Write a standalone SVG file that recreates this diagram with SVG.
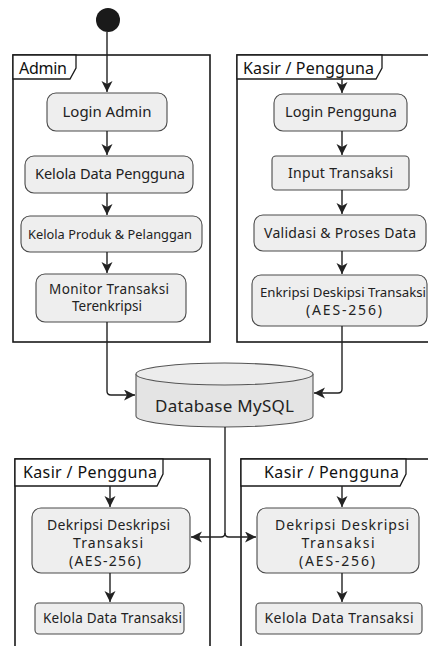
<svg xmlns="http://www.w3.org/2000/svg" width="428" height="646" viewBox="0 0 428 646">
<defs>
<style>
.lane{fill:#ffffff;stroke:#1a1a1a;stroke-width:1.6}
.tab{fill:#ffffff;stroke:#1a1a1a;stroke-width:1.3}
.box{fill:#eeeeee;stroke:#4a4a4a;stroke-width:1.1}
.t{font-family:"Noto Sans","Open Sans",sans-serif;fill:#222;text-anchor:middle}
.tl{font-family:"Noto Sans","Open Sans",sans-serif;fill:#111;font-size:16px}
.c{fill:none;stroke:#222;stroke-width:1.4}
</style>
<marker id="ah" markerWidth="13" markerHeight="12" refX="11" refY="5.5" orient="auto" markerUnits="userSpaceOnUse">
<path d="M0,0 L11,5.5 L0,11 L3,5.5 z" fill="#222"/>
</marker>
</defs>
<rect width="428" height="646" fill="#ffffff"/>

<g id="lane-admin">
<rect class="lane" x="13" y="55" width="197" height="287"/>
<path class="tab" d="M13,55 L76,55 L76,68 L70,79 L13,79 Z"/>
<text class="tl" x="19" y="74" textLength="48" lengthAdjust="spacing">Admin</text>
</g>
<g id="lane-kasir-top">
<rect class="lane" x="237" y="55" width="200" height="287"/>
<path class="tab" d="M237,55 L382,55 L382,68 L376,79 L237,79 Z"/>
<text class="tl" x="243" y="74" textLength="131" lengthAdjust="spacing">Kasir / Pengguna</text>
</g>
<g id="lane-kasir-bl">
<rect class="lane" x="15" y="459" width="195" height="200"/>
<path class="tab" d="M15,459 L163,459 L163,474 L157,486 L15,486 Z"/>
<text class="tl" x="23" y="478" textLength="134" lengthAdjust="spacing">Kasir / Pengguna</text>
</g>
<g id="lane-kasir-br">
<rect class="lane" x="241" y="459" width="200" height="200"/>
<path class="tab" d="M241,459 L406,459 L406,474 L400,486 L241,486 Z"/>
<text class="tl" x="264" y="478" textLength="135" lengthAdjust="spacing">Kasir / Pengguna</text>
</g>

<g id="start"><circle cx="108" cy="20" r="12" fill="#1a1a1a"/></g>

<g id="login-admin"><rect class="box" x="47" y="93" width="120" height="38" rx="9"/><text class="t" x="107" y="116.5" font-size="15" textLength="89" lengthAdjust="spacing">Login Admin</text></g>
<g id="kelola-data-pengguna"><rect class="box" x="25" y="156" width="168" height="37" rx="9"/><text class="t" x="110" y="179" font-size="14.6" textLength="150" lengthAdjust="spacing">Kelola Data Pengguna</text></g>
<g id="kelola-produk"><rect class="box" x="21" y="216" width="181" height="36" rx="9"/><text class="t" x="110" y="238.5" font-size="12.8" textLength="164" lengthAdjust="spacing">Kelola Produk &amp; Pelanggan</text></g>
<g id="monitor"><rect class="box" x="36" y="274" width="150" height="48" rx="9"/><text class="t" x="109" y="293.5" font-size="13.5" textLength="120" lengthAdjust="spacing">Monitor Transaksi</text><text class="t" x="107" y="311" font-size="13.5">Terenkripsi</text></g>

<g id="login-pengguna"><rect class="box" x="274" y="94" width="133" height="37" rx="9"/><text class="t" x="341" y="116.5" font-size="14.5" textLength="112" lengthAdjust="spacing">Login Pengguna</text></g>
<g id="input-transaksi"><rect class="box" x="272" y="156" width="137" height="34" rx="4"/><text class="t" x="340.5" y="177.5" font-size="14" textLength="105" lengthAdjust="spacing">Input Transaksi</text></g>
<g id="validasi"><rect class="box" x="254" y="215" width="172" height="36" rx="9"/><text class="t" x="340" y="237.5" font-size="14" textLength="152" lengthAdjust="spacing">Validasi &amp; Proses Data</text></g>
<g id="enkripsi"><rect class="box" x="252" y="275" width="175" height="51" rx="9"/><text class="t" x="343" y="297" font-size="13" textLength="166" lengthAdjust="spacingAndGlyphs">Enkripsi Deskipsi Transaksi</text><text class="t" x="344" y="315" font-size="14" textLength="76" lengthAdjust="spacing">(AES-256)</text></g>

<g id="database">
<path d="M136,374 L136,416 A88.5,11 0 0 0 313,416 L313,374" fill="#e4e4e4" stroke="#555" stroke-width="1.1"/>
<ellipse cx="224.5" cy="374" rx="88.5" ry="11" fill="#ececec" stroke="#555" stroke-width="1.1"/>
<text class="t" x="224.5" y="412" font-size="17" textLength="139" lengthAdjust="spacing">Database MySQL</text>
</g>

<g id="dekripsi-left"><rect class="box" x="32" y="508" width="158" height="65" rx="9"/><text class="t" x="108.5" y="530" font-size="14" textLength="123" lengthAdjust="spacing">Dekripsi Deskripsi</text><text class="t" x="108" y="548" font-size="14" textLength="70" lengthAdjust="spacing">Transaksi</text><text class="t" x="105" y="566" font-size="14" textLength="72" lengthAdjust="spacing">(AES-256)</text></g>
<g id="kelola-transaksi-left"><rect class="box" x="35" y="603" width="149" height="31" rx="4"/><text class="t" x="112.5" y="622.5" font-size="13.5" textLength="139" lengthAdjust="spacing">Kelola Data Transaksi</text></g>
<g id="dekripsi-right"><rect class="box" x="257" y="508" width="162" height="65" rx="9"/><text class="t" x="342" y="530" font-size="14" textLength="134" lengthAdjust="spacing">Dekripsi Deskripsi</text><text class="t" x="338" y="548" font-size="14" textLength="73" lengthAdjust="spacing">Transaksi</text><text class="t" x="337" y="566" font-size="14" textLength="76" lengthAdjust="spacing">(AES-256)</text></g>
<g id="kelola-transaksi-right"><rect class="box" x="256" y="603" width="166" height="31" rx="4"/><text class="t" x="339" y="622.5" font-size="14" textLength="149" lengthAdjust="spacing">Kelola Data Transaksi</text></g>

<g id="connectors">
<path class="c" d="M107,32 L107,92" marker-end="url(#ah)"/>
<path class="c" d="M107,131 L107,155" marker-end="url(#ah)"/>
<path class="c" d="M107,193 L107,215" marker-end="url(#ah)"/>
<path class="c" d="M107,252 L107,273" marker-end="url(#ah)"/>
<path class="c" d="M107,322 L107,391 Q107,395 111,395 L135,395" marker-end="url(#ah)"/>
<path class="c" d="M342,79 L342,93" marker-end="url(#ah)"/>
<path class="c" d="M342,131 L342,155" marker-end="url(#ah)"/>
<path class="c" d="M342,190 L342,214" marker-end="url(#ah)"/>
<path class="c" d="M342,251 L342,274" marker-end="url(#ah)"/>
<path class="c" d="M342,326 L342,389 Q342,393 338,393 L314,393" marker-end="url(#ah)"/>
<path class="c" d="M225,427 L225,533 Q225,537 221,537 L191,537" marker-end="url(#ah)"/>
<path class="c" d="M225,533 Q225,537 229,537 L256,537" marker-end="url(#ah)"/>
<path class="c" d="M110,486 L110,507" marker-end="url(#ah)"/>
<path class="c" d="M110,573 L110,602" marker-end="url(#ah)"/>
<path class="c" d="M342,486 L342,507" marker-end="url(#ah)"/>
<path class="c" d="M342,573 L342,602" marker-end="url(#ah)"/>
</g>
</svg>
